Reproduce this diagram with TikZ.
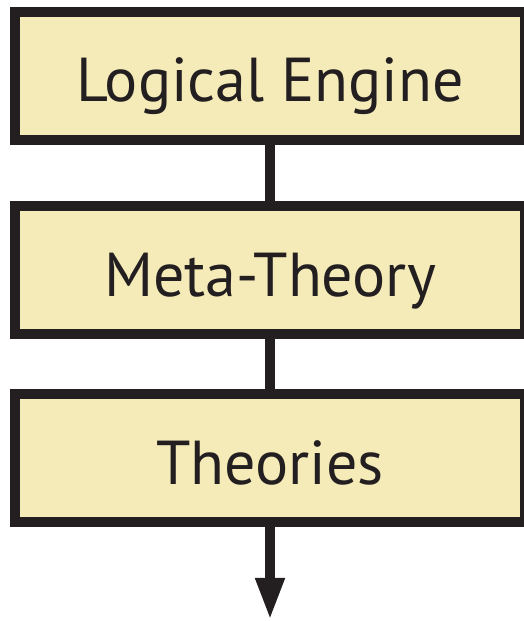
\documentclass[tikz,border=0pt]{standalone}
\usepackage{fontspec}
\setmainfont{PT Sans}
\usetikzlibrary{arrows.meta}
\definecolor{boxfill}{HTML}{F5EBB9}
\definecolor{ink}{HTML}{231F20}
\begin{document}
\begin{tikzpicture}[x=1pt,y=1pt,
  layer/.style={draw=ink, fill=boxfill, line width=10pt, minimum width=510pt, minimum height=128pt,
    inner sep=0pt, font=\fontsize{62}{62}\selectfont, text=ink, text height=52pt, text depth=0pt},
  conn/.style={draw=ink, line width=10pt}]
\useasboundingbox (0,0) rectangle (524,621);
\node[layer] (engine) at (270,545) {Logical Engine};
\node[layer] (meta) at (270,350.5) {Meta-Theory};
\node[layer] (theories) at (270,162.5) {Theories};
\coordinate (out) at (270,1);
\draw[conn] (engine.south) -- (meta.north);
\draw[conn] (meta.south) -- (theories.north);
\draw[conn, -{Stealth[length=42pt, width=27pt, inset=0pt]}] (theories.south) -- (out);
\end{tikzpicture}
\end{document}
